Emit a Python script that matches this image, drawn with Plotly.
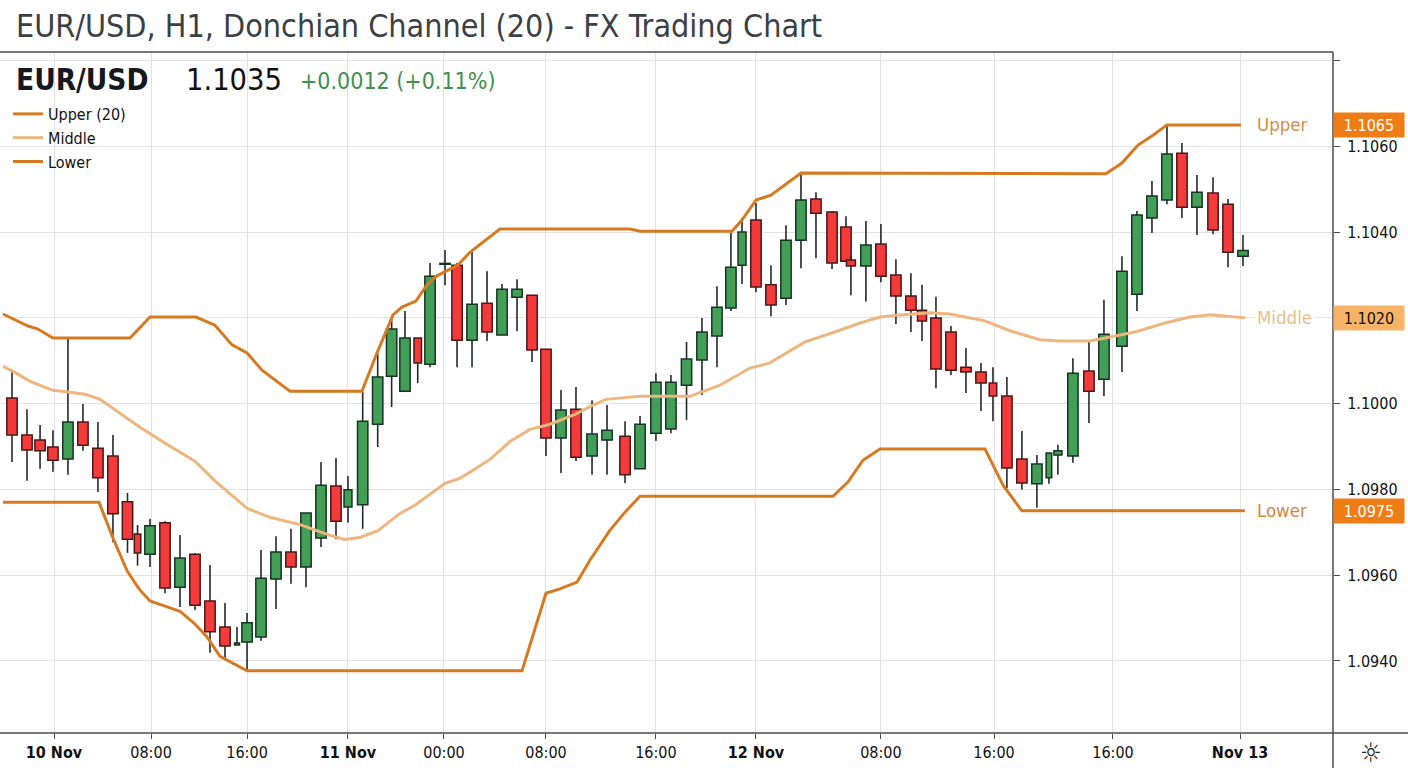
import plotly.graph_objects as go

# Hourly bars: position on the time axis and OHLC prices
bar_slot = [0, 1, 1.87, 2.73, 3.73, 4.73, 5.73, 6.73, 7.7, 8.37, 9.2, 10.2, 11.2, 12.2, 13.2, 14.2, 15, 15.67,
            16.6, 17.6, 18.6, 19.6, 20.6, 21.6, 22.4, 23.38, 24.38, 25.31, 26.2, 27.05, 27.87, 28.87, 29.67,
            30.67, 31.67, 32.67, 33.67, 34.67, 35.6, 36.6, 37.6, 38.67, 39.67, 40.87, 41.87, 42.93, 43.93,
            44.97, 46, 47, 47.93, 48.67, 49.6, 50.6, 51.6, 52.6, 53.6, 54.67, 55.6, 55.93, 56.93, 57.93,
            58.93, 59.93, 60.67, 61.6, 62.6, 63.6, 64.6, 65.4, 66.33, 67.33, 68.33, 69.13, 69.73, 70.73,
            71.8, 72.8, 74, 75, 76, 77, 78, 79, 80.07, 81.07, 82.07]
bar_open = [1.10013, 1.09927, 1.09915, 1.09899, 1.09871, 1.09957, 1.09896, 1.09878, 1.09771, 1.09696, 1.09649,
            1.09722, 1.09572, 1.09649, 1.09540, 1.09479, 1.09437, 1.09444, 1.09456, 1.09591, 1.09654, 1.09619,
            1.09687, 1.09808, 1.09759, 1.09764, 1.09952, 1.10064, 1.10029, 1.10153, 1.10092, 1.10325, 1.10323,
            1.10148, 1.10234, 1.10160, 1.10248, 1.10253, 1.10127, 1.09920, 1.09987, 1.09878, 1.09915, 1.09924,
            1.09848, 1.09931, 1.09941, 1.10043, 1.10102, 1.10158, 1.10223, 1.10323, 1.10428, 1.10277, 1.10246,
            1.10381, 1.10477, 1.10447, 1.10412, 1.10335, 1.10321, 1.10372, 1.10300, 1.10251, 1.10218, 1.10200,
            1.10167, 1.10085, 1.10074, 1.10048, 1.10018, 1.09871, 1.09813, 1.09827, 1.09880, 1.09878, 1.10076,
            1.10057, 1.10134, 1.10255, 1.10433, 1.10475, 1.10584, 1.10458, 1.10491, 1.10465, 1.10344]
bar_high = [1.10074, 1.09987, 1.09950, 1.09938, 1.10155, 1.09999, 1.09957, 1.09927, 1.09792, 1.09717, 1.09731,
            1.09726, 1.09694, 1.09652, 1.09624, 1.09535, 1.09479, 1.09512, 1.09659, 1.09691, 1.09708, 1.09745,
            1.09864, 1.09873, 1.09831, 1.10027, 1.10118, 1.10202, 1.10216, 1.10153, 1.10328, 1.10358, 1.10328,
            1.10358, 1.10309, 1.10279, 1.10290, 1.10253, 1.10127, 1.10032, 1.10039, 1.10008, 1.09997, 1.09959,
            1.09971, 1.10071, 1.10067, 1.10144, 1.10200, 1.10274, 1.10398, 1.10433, 1.10468, 1.10323, 1.10416,
            1.10538, 1.10493, 1.10449, 1.10437, 1.10344, 1.10426, 1.10419, 1.10337, 1.10304, 1.10277, 1.10249,
            1.10181, 1.10130, 1.10095, 1.10085, 1.10062, 1.09936, 1.09880, 1.09885, 1.09904, 1.10106, 1.10144,
            1.10242, 1.10344, 1.10449, 1.10519, 1.10648, 1.10608, 1.10533, 1.10528, 1.10477, 1.10393]
bar_low = [1.09864, 1.09820, 1.09848, 1.09841, 1.09834, 1.09890, 1.09794, 1.09677, 1.09652, 1.09622, 1.09619,
           1.09558, 1.09526, 1.09519, 1.09419, 1.09407, 1.09437, 1.09379, 1.09447, 1.09521, 1.09580, 1.09572,
           1.09666, 1.09684, 1.09722, 1.09708, 1.09899, 1.09992, 1.10029, 1.10048, 1.10085, 1.10276, 1.10085,
           1.10085, 1.10146, 1.10160, 1.10169, 1.10097, 1.09878, 1.09838, 1.09866, 1.09834, 1.09834, 1.09815,
           1.09848, 1.09913, 1.09931, 1.09962, 1.10020, 1.10085, 1.10216, 1.10279, 1.10260, 1.10204, 1.10230,
           1.10316, 1.10339, 1.10314, 1.10332, 1.10253, 1.10238, 1.10283, 1.10186, 1.10167, 1.10146, 1.10036,
           1.10067, 1.10025, 1.09983, 1.09959, 1.09803, 1.09799, 1.09757, 1.09813, 1.09834, 1.09862, 1.09955,
           1.10018, 1.10074, 1.10216, 1.10398, 1.10465, 1.10433, 1.10393, 1.10395, 1.10318, 1.10321]
bar_close = [1.09927, 1.09892, 1.09890, 1.09868, 1.09957, 1.09903, 1.09827, 1.09743, 1.09684, 1.09652, 1.09715,
             1.09570, 1.09640, 1.09530, 1.09468, 1.09435, 1.09442, 1.09489, 1.09593, 1.09654, 1.09619, 1.09745,
             1.09810, 1.09726, 1.09799, 1.09959, 1.10062, 1.10174, 1.10153, 1.10095, 1.10297, 1.10327, 1.10148,
             1.10232, 1.10167, 1.10267, 1.10267, 1.10125, 1.09920, 1.09985, 1.09875, 1.09929, 1.09938, 1.09834,
             1.09952, 1.10050, 1.10050, 1.10104, 1.10167, 1.10225, 1.10318, 1.10400, 1.10272, 1.10230, 1.10381,
             1.10475, 1.10444, 1.10328, 1.10332, 1.10321, 1.10370, 1.10297, 1.10251, 1.10218, 1.10193, 1.10081,
             1.10078, 1.10074, 1.10048, 1.10018, 1.09850, 1.09815, 1.09859, 1.09885, 1.09890, 1.10071, 1.10029,
             1.10162, 1.10309, 1.10440, 1.10484, 1.10582, 1.10458, 1.10493, 1.10405, 1.10353, 1.10357]
# Body width of each bar, in time-axis units
bar_width = [0.69] * 87
for index, narrow in {9: 0.43, 16: 0.33, 24: 0.53, 29: 0.5, 51: 0.53, 59: 0.6, 64: 0.6, 69: 0.5, 73: 0.37, 74: 0.53}.items():
    bar_width[index] = narrow

# Donchian channel bands
upper_slot = [-0.6, 0.2, 1.07, 1.73, 2.73, 7.87, 9.2, 12.27, 13.53, 14.67, 15.67, 16.67, 18.53, 23.33, 24.33, 25.4,
              26, 26.93, 27.67, 28.33, 29.73, 30.53, 31.53, 32.53, 41.2, 41.87, 48, 48.67, 49.6, 50.6, 52.6, 72.93,
              74, 75.07, 76.07, 77, 81.93]
upper_band = [1.10209, 1.10195, 1.10181, 1.10174, 1.10153, 1.10153, 1.10202, 1.10202, 1.10183, 1.10137, 1.10118,
              1.10078, 1.10029, 1.10029, 1.10118, 1.10207, 1.10225, 1.10239, 1.10277, 1.10298, 1.10323, 1.10353,
              1.10381, 1.10407, 1.10407, 1.10402, 1.10402, 1.10428, 1.10475, 1.10486, 1.10538, 1.10536, 1.10561,
              1.10603, 1.10626, 1.1065, 1.1065]
middle_slot = [-0.6, 0.2, 1.2, 2.73, 3.73, 4.87, 5.87, 7.2, 8.53, 10.2, 12.2, 13.53, 15.67, 17.2, 19.2, 21.2, 22.2,
               23.2, 24.4, 25.87, 26.87, 28.87, 29.87, 31.87, 33.2, 34.53, 35.87, 37.53, 38.53, 39.6, 41.87, 45.2,
               47.2, 49.2, 50.53, 52.87, 54.87, 56.53, 57.87, 59.2, 61.2, 62.53, 64.87, 66.53, 68.53, 69.87, 71.87,
               74.87, 76.87, 78.53, 79.87, 82.2]
middle_band = [1.10087, 1.10073, 1.10052, 1.10031, 1.10027, 1.10022, 1.10010, 1.09978, 1.09945, 1.09908, 1.09866,
               1.09820, 1.09756, 1.09735, 1.09718, 1.09693, 1.09683, 1.09688, 1.09704, 1.09744, 1.09763, 1.09814,
               1.09826, 1.09870, 1.09912, 1.09940, 1.09952, 1.09975, 1.09993, 1.10010, 1.10017, 1.10017, 1.10043,
               1.10083, 1.10095, 1.10144, 1.10167, 1.10188, 1.10202, 1.10207, 1.10212, 1.10209, 1.10193, 1.10170,
               1.10149, 1.10146, 1.10146, 1.10167, 1.10188, 1.10202, 1.10207, 1.1020]
lower_slot = [-0.6, 5.8, 6.73, 7.67, 8.47, 9.2, 10.2, 11.2, 12.2, 13, 13.87, 15.67, 34, 35.6, 36.53, 37.67, 38.53,
              39.87, 40.87, 41.87, 54.73, 55.73, 56.73, 57.87, 64.87, 66.07, 67.33, 82.2]
lower_band = [1.09770, 1.09770, 1.09687, 1.09610, 1.09568, 1.09540, 1.09528, 1.09516, 1.09486, 1.09456, 1.09411,
              1.09377, 1.09377, 1.09558, 1.09568, 1.09584, 1.09635, 1.09705, 1.09747, 1.09784, 1.09784, 1.09817,
              1.09868, 1.09894, 1.09894, 1.09810, 1.0975, 1.0975]

tick_slot = [2.8, 9.27, 15.67, 22.4, 28.8, 35.6, 42.93, 49.6, 57.93, 65.47, 73.4, 81.87]
tick_text = ["<b>10 Nov</b>", "08:00", "16:00", "<b>11 Nov</b>", "00:00", "08:00", "16:00", "<b>12 Nov</b>",
             "08:00", "16:00", "16:00", "<b>Nov 13</b>"]
price_ticks = [1.0940, 1.0960, 1.0980, 1.1000, 1.1020, 1.1040, 1.1060, 1.1080]
price_text = ["1.0940", "1.0960", "1.0980", "1.1000", "", "1.1040", "1.1060", ""]
band_labels = [("Upper", 1.1065, "#d88a3e", "#ef7d16", "#ffffff"),
               ("Middle", 1.1020, "#e8bd8b", "#f7b468", "#111111"),
               ("Lower", 1.0975, "#d4853a", "#ef7d16", "#ffffff")]

UI_FONT = "DejaVu Sans Condensed"
BAND_DARK = "#d67a22"
BAND_LIGHT = "#ecb77e"
GREEN = "#439e58"
RED = "#f43b3b"
PLOT_W, PLOT_H, TOP = 1333, 681, 52


def paper_x(px):
    return px / PLOT_W


def paper_y(py):
    return (PLOT_H + TOP - py) / PLOT_H


rising = [c >= o for o, c in zip(bar_open, bar_close)]
fig = go.Figure()

# Candle bodies
fig.add_trace(go.Bar(
    x=bar_slot,
    y=[abs(c - o) for o, c in zip(bar_open, bar_close)],
    base=[min(o, c) for o, c in zip(bar_open, bar_close)],
    width=bar_width,
    marker=dict(color=[GREEN if r else RED for r in rising],
                line=dict(color=["#14351f" if r else "#4d1616" for r in rising], width=1.5)),
    showlegend=False, hoverinfo="skip",
))

# Candle wicks stop at the body so that the fill stays clean
wick_x, wick_y = [], []
for s, o, h, l, c in zip(bar_slot, bar_open, bar_high, bar_low, bar_close):
    wick_x += [s, s, None, s, s, None]
    wick_y += [h, max(o, c), None, min(o, c), l, None]
fig.add_trace(go.Scatter(x=wick_x, y=wick_y, mode="lines", line=dict(color="#23282a", width=1.6),
                         showlegend=False, hoverinfo="skip"))

for name, xs, ys, colour in [("Upper (20)", upper_slot, upper_band, BAND_DARK),
                             ("Middle", middle_slot, middle_band, BAND_LIGHT),
                             ("Lower", lower_slot, lower_band, BAND_DARK)]:
    fig.add_trace(go.Scatter(x=xs, y=ys, mode="lines", name=name, line=dict(color=colour, width=3)))

annotations = [
    dict(text="<b>EUR/USD</b>", x=paper_x(14), y=paper_y(80), font=dict(size=29.5, color="#15181c")),
    dict(text="1.1035", x=paper_x(184), y=paper_y(80), font=dict(size=30.5, color="#111111")),
    dict(text="+0.0012 (+0.11%)", x=paper_x(298), y=paper_y(81), font=dict(size=23, color="#3f8f50")),
    dict(text="☼", x=paper_x(1371), y=paper_y(752), font=dict(size=27, color="#222222"), xanchor="center"),
]
for a in annotations:
    a.update(xref="paper", yref="paper", showarrow=False, xanchor=a.get("xanchor", "left"), yanchor="middle")

for label, value, text_colour, tag_colour, tag_text in band_labels:
    annotations.append(dict(text=label, xref="paper", yref="y", x=paper_x(1255), y=value, showarrow=False,
                            xanchor="left", yanchor="middle", bgcolor="#ffffff",
                            font=dict(size=18.5, color=text_colour)))
    annotations.append(dict(text=f"{value:.4f}", xref="paper", yref="y", x=1, y=value, showarrow=False,
                            xanchor="left", yanchor="middle", width=68, height=22, bgcolor=tag_colour,
                            font=dict(size=16, color=tag_text)))

axis_line = dict(color="#4a4a4a", width=1.5)
shapes = [
    # Frame of the pane and the scale strips
    dict(type="line", xref="paper", yref="paper", x0=0, x1=1, y0=1, y1=1, line=axis_line),
    dict(type="line", xref="paper", yref="paper", x0=1, x1=1, y0=paper_y(768), y1=1, line=axis_line),
    dict(type="line", xref="paper", yref="paper", x0=0, x1=paper_x(1408), y0=0, y1=0, line=axis_line),
    # Clear panel under the quote header and the legend's grid column
    dict(type="rect", xref="paper", yref="paper", x0=0, x1=paper_x(500), y0=paper_y(98), y1=paper_y(63),
         fillcolor="#ffffff", line_width=0, layer="below"),
    dict(type="rect", xref="paper", yref="paper", x0=paper_x(50), x1=paper_x(58), y0=paper_y(177), y1=paper_y(63),
         fillcolor="#ffffff", line_width=0, layer="below"),
]

grid = "#dfe1e3"
fig.update_layout(
    width=1408, height=768,
    margin=dict(l=0, r=75, t=TOP, b=35, autoexpand=False),
    paper_bgcolor="#ffffff", plot_bgcolor="#ffffff",
    barmode="overlay",
    font=dict(family=UI_FONT, color="#111111"),
    title=dict(text="EUR/USD, H1, Donchian Channel (20) - FX Trading Chart",
               x=16 / 1408, xanchor="left", xref="container", y=1 - 26 / 768, yanchor="middle", yref="container",
               font=dict(family=UI_FONT, size=32, color="#3b4045")),
    xaxis=dict(range=[-0.8, 88.07], tickmode="array", tickvals=tick_slot, ticktext=tick_text,
               ticks="outside", ticklen=5, tickcolor="#4a4a4a", showgrid=True, gridcolor=grid, gridwidth=1,
               zeroline=False, showline=False, tickfont=dict(size=16, color="#111111")),
    yaxis=dict(range=[1.09232, 1.1082], side="right", tickmode="array", tickvals=price_ticks, ticktext=price_text,
               ticks="outside", ticklen=6, tickcolor="#4a4a4a", showgrid=True, gridcolor=grid, gridwidth=1,
               zeroline=False, showline=False, ticklabelstandoff=4, tickfont=dict(size=16, color="#111111")),
    legend=dict(x=paper_x(8), y=paper_y(97), xanchor="left", yanchor="top", bgcolor="rgba(0,0,0,0)",
                font=dict(size=16, color="#111111"), itemwidth=30, tracegroupgap=0),
    annotations=annotations,
    shapes=shapes,
    showlegend=True,
)

fig.write_html("out.html")
